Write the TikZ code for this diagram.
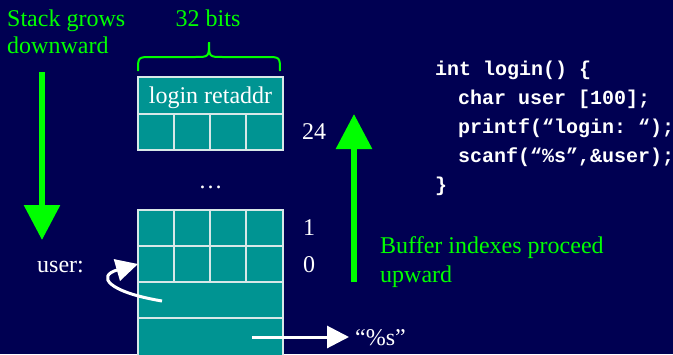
\documentclass[tikz,border=0pt]{standalone}
\usepackage{fontspec}
\setmainfont{Liberation Serif}
\setmonofont{Liberation Mono}
\usepackage{xcolor}
\usetikzlibrary{arrows.meta}

\definecolor{slidebg}{RGB}{0,0,82}
\definecolor{cellteal}{RGB}{0,148,146}
\definecolor{cellline}{RGB}{215,232,232}
\definecolor{litgreen}{RGB}{0,255,0}

\tikzset{
  lbl/.style={inner sep=0pt, font=\fontsize{24}{28}\selectfont},
  greenlbl/.style={lbl, text=litgreen},
  whitelbl/.style={lbl, text=white},
  codeline/.style={inner sep=0pt, anchor=base west, text=white,
    font=\fontsize{20}{29}\selectfont\ttfamily\bfseries},
  cellbox/.style={fill=cellteal, draw=cellline, line width=1.2pt},
  celldiv/.style={draw=cellline, line width=1.2pt},
  bigarrow/.style={litgreen, line width=6pt, -{Triangle[length=35pt,width=35pt]}},
  ptrarrow/.style={white, line width=3pt, -{Triangle[length=22pt,width=22pt]}}
}

\begin{document}
\begin{tikzpicture}[x=1pt,y=-1pt]
  \fill[slidebg] (0,0) rectangle (673,354);
  \useasboundingbox (0,0) rectangle (673,354);

  % return address slot
  \draw[cellbox] (138,77) rectangle (283,150);
  \draw[celldiv] (138,114) -- (283,114);
  \foreach \x in {174,210,246}
    \draw[celldiv] (\x,114) -- (\x,150);
  \node[whitelbl, anchor=base] (retaddr) at (210.5,103) {login retaddr};

  % user buffer and the words below it
  \draw[cellbox] (138,210) rectangle (283,358);
  \foreach \y in {246,282,318}
    \draw[celldiv] (138,\y) -- (283,\y);
  \foreach \x in {174,210,246}
    \draw[celldiv] (\x,210) -- (\x,282);
  \node[whitelbl, anchor=base] (gap) at (210.5,188) {\ldots};

  % word width
  \draw[litgreen, line width=2pt]
    (138,71) .. controls (138,57) .. (152,57) -- (195,57)
    .. controls (209,57) .. (209,42) .. controls (209,57) .. (223,57)
    -- (266,57) .. controls (280,57) .. (280,71);
  \node[greenlbl, anchor=base] (width) at (208,26) {32 bits};

  % index labels
  \node[whitelbl, anchor=base west] (idx24) at (302,139) {24};
  \node[whitelbl, anchor=base west] (idx1) at (303,235) {1};
  \node[whitelbl, anchor=base west] (idx0) at (303,272) {0};

  % stack direction
  \node[greenlbl, anchor=base west] (grow1) at (7,26) {Stack grows};
  \node[greenlbl, anchor=base west] (grow2) at (7,53) {downward};
  \coordinate (downtop) at (42,72);
  \coordinate (downtip) at (42,240);
  \draw[bigarrow] (downtop) -- (downtip);

  % index direction
  \coordinate (upbot) at (354,282);
  \coordinate (uptip) at (354,114);
  \draw[bigarrow] (upbot) -- (uptip);
  \node[greenlbl, anchor=base west] (idxtxt1) at (380,253) {Buffer indexes proceed};
  \node[greenlbl, anchor=base west] (idxtxt2) at (380,282) {upward};

  % user buffer pointer
  \node[whitelbl, anchor=base west] (userlbl) at (37,272) {user:};
  \coordinate (curlsrc) at (162,301);
  \coordinate (buf0) at (138,264);
  \draw[ptrarrow] (curlsrc) .. controls (108,292) and (96,276) .. (buf0);

  % format string
  \node[whitelbl, anchor=base west] (fmt) at (355,345) {``\%s''};
  \coordinate (fmtsrc) at (252,337);
  \draw[ptrarrow, shorten >=6pt] (fmtsrc) -- (fmt.west |- fmtsrc);

  % source code
  \node[codeline] (code1) at (435,75) {int login() \{};
  \node[codeline] (code2) at (458,104) {char user [100];};
  \node[codeline] (code3) at (458,133) {printf(“login: “);};
  \node[codeline] (code4) at (458,162) {scanf(“\%s”,\&user);};
  \node[codeline] (code5) at (435,191) {\}};
\end{tikzpicture}
\end{document}
